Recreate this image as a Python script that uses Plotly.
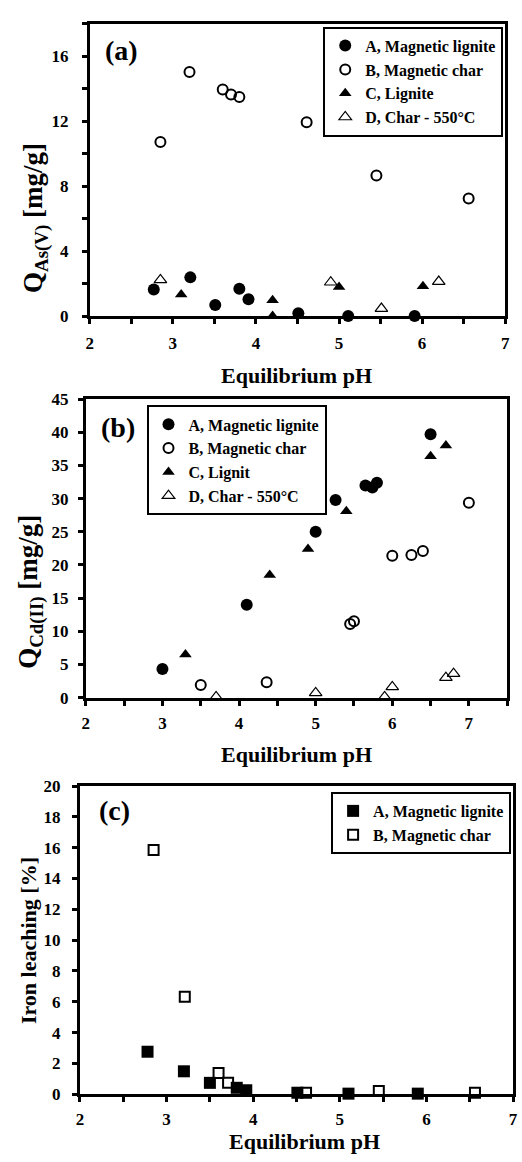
import plotly.graph_objects as go

W, H = 522, 1162
FONT = "Liberation Serif"

# ---------------- data ----------------
# Panel (a): As(V) uptake vs equilibrium pH
a_A_x = [2.77, 3.21, 3.51, 3.80, 3.91, 4.51, 5.11, 5.91]
a_A_y = [1.65, 2.40, 0.70, 1.70, 1.05, 0.20, 0.02, 0.02]
a_B_x = [2.85, 3.20, 3.60, 3.70, 3.80, 4.61, 5.45, 6.56]
a_B_y = [10.73, 15.03, 13.96, 13.65, 13.50, 11.94, 8.67, 7.25]
a_C_x = [3.10, 4.20, 4.20, 5.00, 6.01]
a_C_y = [1.35, 1.00, 0.02, 1.80, 1.85]
a_D_x = [2.85, 4.90, 5.51, 6.20]
a_D_y = [2.24, 2.10, 0.48, 2.14]

# Panel (b): Cd(II) uptake vs equilibrium pH
b_A_x = [3.00, 4.10, 5.00, 5.26, 5.65, 5.74, 5.80, 6.50]
b_A_y = [4.3, 14.0, 25.0, 29.8, 32.0, 31.7, 32.4, 39.7]
b_B_x = [3.50, 4.36, 5.45, 5.50, 6.00, 6.25, 6.40, 7.00]
b_B_y = [1.9, 2.3, 11.1, 11.5, 21.4, 21.5, 22.1, 29.4]
b_C_x = [3.30, 4.40, 4.90, 5.40, 6.50, 6.70]
b_C_y = [6.5, 18.5, 22.4, 28.1, 36.4, 38.0]
b_D_x = [3.70, 5.00, 5.90, 6.00, 6.70, 6.80]
b_D_y = [0.1, 0.7, 0.1, 1.6, 3.0, 3.6]

# Panel (c): iron leaching vs equilibrium pH
c_A_x = [2.78, 3.20, 3.50, 3.81, 3.92, 4.51, 5.10, 5.90]
c_A_y = [2.76, 1.49, 0.74, 0.42, 0.26, 0.10, 0.04, 0.04]
c_B_x = [2.85, 3.21, 3.60, 3.71, 4.61, 5.45, 6.56]
c_B_y = [15.85, 6.32, 1.38, 0.74, 0.10, 0.21, 0.10]

names_ab = ["A, Magnetic lignite", "B, Magnetic char", "C, Lignite", "D, Char - 550°C"]
names_b = ["A, Magnetic lignite", "B, Magnetic char", "C, Lignit", "D, Char - 550°C"]
names_c = ["A, Magnetic lignite", "B, Magnetic char"]


def px_x(p):
    return p / W


def px_y(p):
    return 1 - p / H


fig = go.Figure()

styles = {
    "A": dict(symbol="circle", size=12, color="black", line=dict(width=0, color="black")),
    "B": dict(symbol="circle-open", size=10, color="black", line=dict(width=2, color="black")),
    "C": dict(symbol="triangle-up", size=11, color="black", line=dict(width=0, color="black")),
    "D": dict(symbol="triangle-up-open", size=11, color="black", line=dict(width=1.2, color="black")),
    "SA": dict(symbol="square", size=12, color="black", line=dict(width=0, color="black")),
    "SB": dict(symbol="square-open", size=10, color="black", line=dict(width=2, color="black")),
}


def add(x, y, name, style, xa, ya, legend):
    fig.add_trace(go.Scatter(
        x=x, y=y, mode="markers", name=name, marker=styles[style],
        xaxis=xa, yaxis=ya, legend=legend, cliponaxis=False,
    ))


add(a_A_x, a_A_y, names_ab[0], "A", "x", "y", "legend")
add(a_B_x, a_B_y, names_ab[1], "B", "x", "y", "legend")
add(a_C_x, a_C_y, names_ab[2], "C", "x", "y", "legend")
add(a_D_x, a_D_y, names_ab[3], "D", "x", "y", "legend")

add(b_A_x, b_A_y, names_b[0], "A", "x2", "y2", "legend2")
add(b_B_x, b_B_y, names_b[1], "B", "x2", "y2", "legend2")
add(b_C_x, b_C_y, names_b[2], "C", "x2", "y2", "legend2")
add(b_D_x, b_D_y, names_b[3], "D", "x2", "y2", "legend2")

add(c_A_x, c_A_y, names_c[0], "SA", "x3", "y3", "legend3")
add(c_B_x, c_B_y, names_c[1], "SB", "x3", "y3", "legend3")

tickfont = dict(family=FONT, size=17, color="black", weight="bold")
common = dict(showline=True, linewidth=3, linecolor="black", mirror=True,
              showgrid=False, zeroline=False, ticks="outside", ticklen=5,
              tickwidth=3, tickcolor="black", tickfont=tickfont)
minor_x = dict(dtick=0.5, ticks="outside", ticklen=5, tickwidth=3, tickcolor="black")

# pixel geometry of the three plot areas (left, right, top, bottom)
geo_a = (87.3, 510.0, 15.0, 312.5)
geo_b = (83.3, 512.0, 396.7, 700.0)
geo_c = (77.3, 518.0, 790.0, 1103.3)


def dom(g):
    return [px_x(g[0]), px_x(g[1])], [px_y(g[3]), px_y(g[2])]


xa, ya = dom(geo_a)
xb, yb = dom(geo_b)
xc, yc = dom(geo_c)

fig.update_layout(
    width=W, height=H, autosize=False,
    margin=dict(l=0, r=0, t=0, b=0, pad=0),
    paper_bgcolor="white", plot_bgcolor="white",
    font=dict(family=FONT, color="black", weight="bold"),
    xaxis=dict(domain=xa, anchor="y", range=[2, 7], dtick=1, tick0=2,
               minor=minor_x, ticklabelstandoff=4, **common),
    yaxis=dict(domain=ya, anchor="x", range=[0, 18], dtick=4, tick0=0,
               minor=dict(dtick=2, ticks="outside", ticklen=5, tickwidth=3, tickcolor="black"),
               ticklabelstandoff=10, **common),
    xaxis2=dict(domain=xb, anchor="y2", range=[2, 7.5], dtick=1, tick0=2,
                minor=minor_x, ticklabelstandoff=3, **common),
    yaxis2=dict(domain=yb, anchor="x2", range=[0, 45], dtick=5, tick0=0,
                ticklabelstandoff=6, **common),
    xaxis3=dict(domain=xc, anchor="y3", range=[2, 7], dtick=1, tick0=2,
                minor=minor_x, ticklabelstandoff=2, **common),
    yaxis3=dict(domain=yc, anchor="x3", range=[0, 20], dtick=2, tick0=0,
                ticklabelstandoff=8, **common),
    showlegend=True,
)

legend_common = dict(bgcolor="white", bordercolor="black", borderwidth=2,
                     font=dict(family=FONT, size=16, color="black", weight="bold"),
                     tracegroupgap=0, itemwidth=30, yanchor="top")
fig.update_layout(
    legend=dict(x=px_x(508), xanchor="right", y=px_y(18), **legend_common),
    legend2=dict(x=px_x(145), xanchor="left", y=px_y(403), **legend_common),
    legend3=dict(x=px_x(516), xanchor="right", y=px_y(796), **legend_common),
)

ann = []


def text(x, y, s, size, angle=0):
    ann.append(dict(x=px_x(x), y=px_y(y), xref="paper", yref="paper", text=s,
                    showarrow=False, textangle=angle, xanchor="center", yanchor="middle",
                    font=dict(family=FONT, size=size, color="black", weight="bold")))


# panel labels
text(120, 42.5, "(a)", 28)
text(116, 425, "(b)", 28)
text(112, 815, "(c)", 28)
# x-axis titles
text(298, 373, "Equilibrium pH", 22)
text(298, 758, "Equilibrium pH", 22)
text(306, 1151, "Equilibrium pH", 22)
# y-axis titles
text(32, 212, "Q<sub>As(V)</sub> [mg/g]", 27, -90)
text(27, 593, "Q<sub>Cd(II)</sub> [mg/g]", 27, -90)
text(25, 947, "Iron leaching [%]", 22, -90)

fig.update_layout(annotations=ann)

fig.write_html("out.html")
